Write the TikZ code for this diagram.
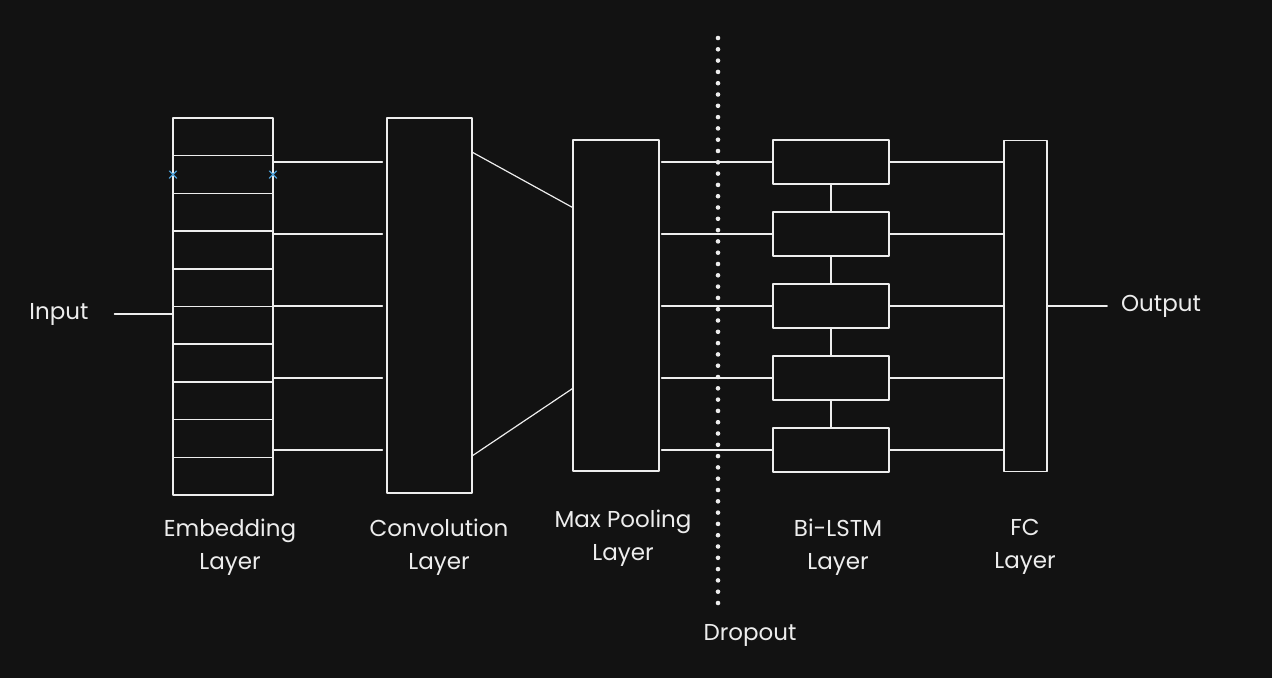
\documentclass[tikz,border=0pt]{standalone}
\usepackage{fontspec}
\setmainfont{Poppins}
\usepackage{tikz}
\definecolor{bg}{HTML}{121212}
\definecolor{ink}{HTML}{EDEDED}
\definecolor{selblue}{HTML}{4A9FD8}
\usetikzlibrary{positioning,shapes.misc}

\begin{document}
\begin{tikzpicture}[x=1pt, y=-1pt, line cap=round, line join=round, line width=1.2pt, draw=ink,
	block/.style={draw=ink, fill=bg, inner sep=0pt},
	cell/.style={draw=ink, line width=1.5pt, inner sep=0pt, outer sep=0pt, minimum width=100pt, minimum height=37.7pt},
	lstmbox/.style={block, minimum width=116pt, minimum height=44pt},
	layertext/.style={text=ink, align=center, font=\fontsize{23}{33}\selectfont},
	dropline/.style={draw=ink, line width=4.6pt, dash pattern=on 0pt off 11.3pt},
	selmark/.style={cross out, draw=selblue, line width=1.2pt, minimum size=6pt, inner sep=0pt}]
	\fill [bg] (0,0) rectangle (1272,678);
	\useasboundingbox (0,0) rectangle (1272,678);
	% embedding layer
	\node [cell] (emb1) at (223,136.85) {};
	\foreach \k [remember=\k as \prev (initially 1)] in {2,...,10}
		\node [cell, below=0pt of emb\prev] (emb\k) {};
	\node [selmark] (selL) at (emb2.west) {};
	\node [selmark] (selR) at (emb2.east) {};
	% convolution, pooling, bi-lstm, fc
	\node [block, minimum width=85pt, minimum height=375pt] (conv) at (429.5,305.5) {};
	\node [block, minimum width=86pt, minimum height=331pt] (pool) at (616,305.5) {};
	\foreach \i in {1,...,5}
		\node [lstmbox] (lstm\i) at (831,90+72*\i) {};
	\node [block, minimum width=43pt, minimum height=331pt] (fc) at (1025.5,306) {};
	% wires
	\foreach \i in {1,...,5} {
		\draw [shorten >=4pt] (emb10.east |- lstm\i) -- (conv.west |- lstm\i);
		\draw [shorten <=2pt] (pool.east |- lstm\i) -- (lstm\i.west);
		\draw (lstm\i.east) -- (fc.west |- lstm\i);
	}
	\foreach \i [evaluate=\i as \j using int(\i+1)] in {1,...,4}
		\draw (lstm\i.south) -- (lstm\j.north);
	\draw ([yshift=-35pt]conv.north east) -- ([yshift=-68pt]pool.north west);
	\draw ([yshift=38pt]conv.south east) -- ([yshift=83pt]pool.south west);
	% input and output
	\node [layertext] (input) at (59,314) {Input};
	\draw [shorten <=22pt] (input.east) -- (input.east -| emb1.west);
	\node [layertext] (output) at (1161,306) {Output};
	\draw [shorten >=10pt] (fc.east) -- (output.west);
	% dropout
	\coordinate (droptop) at (718,38);
	\coordinate (dropbot) at (718,605);
	\draw [dropline] (droptop) -- (dropbot);
	\node [layertext] (dropout) at (750,635) {Dropout};
	% layer names
	\node [layertext] (embtext) at (230,547) {Embedding\\Layer};
	\node [layertext] (convtext) at (439,547) {Convolution\\Layer};
	\node [layertext] (pooltext) at (623,538) {Max Pooling\\Layer};
	\node [layertext] (lstmtext) at (838,547) {Bi-LSTM\\Layer};
	\node [layertext] (fctext) at (1025,547) {FC\\Layer};
\end{tikzpicture}
\end{document}
